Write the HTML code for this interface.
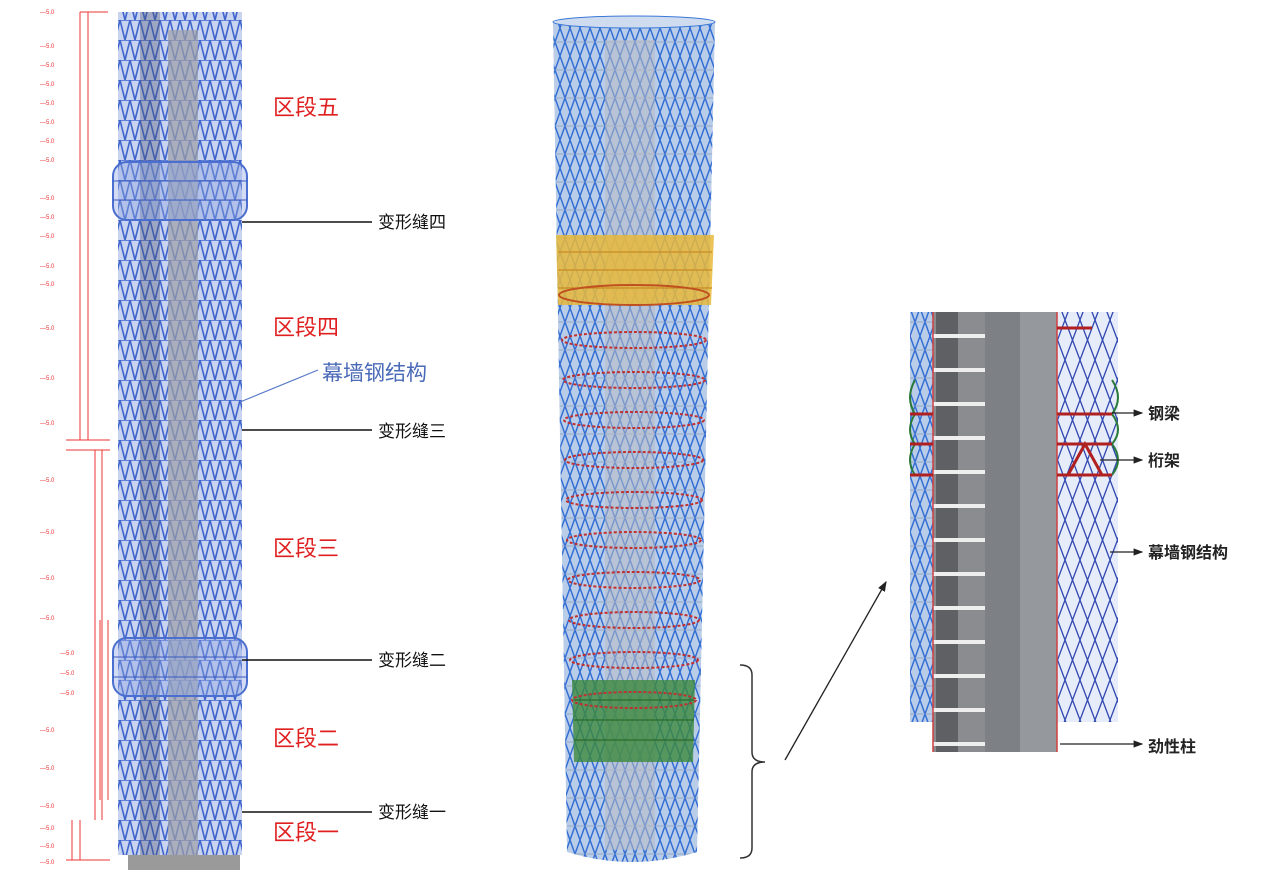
<!DOCTYPE html>
<html><head><meta charset="utf-8"><style>
html,body{margin:0;padding:0;background:#fff;width:1269px;height:875px;overflow:hidden}
svg{display:block}
.cn{font-family:"Liberation Sans","Noto Sans CJK SC",sans-serif}
</style></head><body>
<svg width="1269" height="875" xmlns="http://www.w3.org/2000/svg">
<defs>
<pattern id="lat" width="10" height="20" patternUnits="userSpaceOnUse">
<rect width="10" height="20" fill="#c9d4f0"/>
<path d="M0 0L5 20M10 0L5 20M0 0H10" stroke="#3f64cc" stroke-width="1.6" fill="none"/>
</pattern>
<pattern id="lat2" width="10" height="28" patternUnits="userSpaceOnUse">
<rect width="10" height="28" fill="#b9cde9"/>
<path d="M0 0L10 28M10 0L0 28" stroke="#2f6cd4" stroke-width="1.4" fill="none"/>
<path d="M0 14H10" stroke="#8aa0c0" stroke-width="0.8"/>
</pattern>
<pattern id="lat3" width="15" height="40" patternUnits="userSpaceOnUse">
<rect width="15" height="40" fill="#e6ecf9"/>
<path d="M0 0L15 40M15 0L0 40" stroke="#3048b0" stroke-width="1.3" fill="none"/>
</pattern>
<pattern id="flr" width="52" height="34" patternUnits="userSpaceOnUse">
<rect width="52" height="34" fill="#8a8c90"/>
<rect x="0" y="0" width="22" height="34" fill="#5e6064"/>
<rect x="0" y="28" width="52" height="4" fill="#eeeeee"/>
</pattern>
<marker id="ah" markerWidth="8" markerHeight="8" refX="7" refY="4" orient="auto"><path d="M0 1L8 4L0 7Z" fill="#222"/></marker>
</defs>

<g stroke="#e33" stroke-width="1" fill="none">
<path d="M80 12H108M80 12V440M88 12V440M66 440H110M95 450V820M102 450V820M66 450H110M100 620V800M108 620V800M72 820V860M80 820V860M66 860H110"/>
</g>
<g fill="#e33" font-size="6" font-family="Liberation Sans">
<text x="40" y="14">—5.0</text>
<text x="40" y="48">—5.0</text><text x="40" y="67">—5.0</text><text x="40" y="86">—5.0</text>
<text x="40" y="105">—5.0</text><text x="40" y="124">—5.0</text><text x="40" y="143">—5.0</text>
<text x="40" y="162">—5.0</text><text x="40" y="200">—5.0</text><text x="40" y="219">—5.0</text>
<text x="40" y="238">—5.0</text><text x="40" y="268">—5.0</text><text x="40" y="286">—5.0</text>
<text x="40" y="330">—5.0</text><text x="40" y="380">—5.0</text><text x="40" y="425">—5.0</text>
<text x="40" y="482">—5.0</text><text x="40" y="534">—5.0</text><text x="40" y="580">—5.0</text>
<text x="40" y="620">—5.0</text><text x="60" y="655">—5.0</text><text x="60" y="675">—5.0</text>
<text x="60" y="695">—5.0</text><text x="40" y="732">—5.0</text><text x="40" y="770">—5.0</text>
<text x="40" y="808">—5.0</text><text x="40" y="830">—5.0</text><text x="40" y="848">—5.0</text>
<text x="40" y="864">—5.0</text>
</g>

<rect x="128" y="845" width="112" height="25" fill="#9a9a9a"/>
<rect x="118" y="12" width="124" height="843" fill="url(#lat)"/>
<rect x="168" y="30" width="30" height="825" fill="#9ea0a6" opacity="0.7"/>
<rect x="140" y="12" width="20" height="843" fill="#4a5270" opacity="0.35"/>
<g fill="none" stroke="#4a6fd0" stroke-width="2">
<rect x="113" y="162" width="134" height="58" rx="14" fill="#8fa4e0" fill-opacity="0.4"/>
<rect x="113" y="638" width="134" height="58" rx="14" fill="#8fa4e0" fill-opacity="0.4"/>
</g>
<g stroke="#3a5bc0" stroke-width="1">
<path d="M113 181H247M113 200H247M113 657H247M113 677H247"/>
</g>

<g class="cn" fill="#e02020" font-size="22">
<text x="273" y="115">区段五</text><text x="273" y="335">区段四</text>
<text x="273" y="556">区段三</text><text x="273" y="746">区段二</text>
<text x="273" y="840">区段一</text>
</g>
<g stroke="#111" stroke-width="1.5">
<path d="M242 222H372M242 430H372M242 660H372M242 812H372"/>
</g>
<g class="cn" fill="#111" font-size="17">
<text x="378" y="228">变形缝四</text><text x="378" y="437">变形缝三</text>
<text x="378" y="666">变形缝二</text><text x="378" y="818">变形缝一</text>
</g>
<path d="M240 402L318 370" stroke="#5a7ac8" stroke-width="1.2"/>
<text x="322" y="380" class="cn" fill="#4a6ab8" font-size="21">幕墙钢结构</text>

<path d="M553 22 L715 22 L697 852 Q632 872 567 852 Z" fill="url(#lat2)"/>
<rect x="605" y="40" width="50" height="810" fill="#b8bcc4" opacity="0.55"/>
<ellipse cx="634" cy="22" rx="81" ry="6" fill="#cfdcef" stroke="#3a78d8"/>
<path d="M556 235 L714 235 L711 305 L558 305 Z" fill="#e8b83a" opacity="0.85"/>
<g stroke="#c88a20" stroke-width="1.2" fill="none">
<path d="M558 252H712M558 270H712M558 288H712"/>
</g>
<ellipse cx="634" cy="295" rx="75" ry="10" fill="none" stroke="#c05020" stroke-width="2"/>
<path d="M572 680 L695 680 L693 762 L574 762 Z" fill="#3c8a3c" opacity="0.8"/>
<g stroke="#2a6a2a" stroke-width="1.3" fill="none"><path d="M574 700H694M574 720H694M574 740H694"/></g>
<g fill="none" stroke="#c03030" stroke-width="2" stroke-dasharray="3 2">
<ellipse cx="634" cy="340" rx="72" ry="8"/><ellipse cx="634" cy="380" rx="71" ry="8"/>
<ellipse cx="634" cy="420" rx="70" ry="8"/><ellipse cx="634" cy="460" rx="69" ry="8"/>
<ellipse cx="634" cy="500" rx="68" ry="8"/><ellipse cx="634" cy="540" rx="67" ry="8"/>
<ellipse cx="634" cy="580" rx="66" ry="8"/><ellipse cx="634" cy="620" rx="65" ry="8"/>
<ellipse cx="634" cy="660" rx="64" ry="8"/><ellipse cx="634" cy="700" rx="62" ry="8"/>
</g>

<path d="M740 665 Q752 665 752 675 V752 Q752 762 765 762 Q752 762 752 772 V848 Q752 858 740 858" fill="none" stroke="#333" stroke-width="1.5"/>
<path d="M785 760 L886 582" stroke="#222" stroke-width="1.3" marker-end="url(#ah)"/>

<rect x="910" y="312" width="24" height="410" fill="url(#lat2)"/>
<rect x="1057" y="312" width="61" height="410" fill="url(#lat3)"/>
<rect x="933" y="312" width="52" height="440" fill="url(#flr)"/>
<rect x="985" y="312" width="72" height="440" fill="#7d8084"/>
<rect x="1020" y="312" width="37" height="440" fill="#95989c"/>
<path d="M933 312V752M1057 312V752" stroke="#d04040" stroke-width="1.5"/>
<g fill="none" stroke="#2a7a3a" stroke-width="2">
<path d="M915 380 Q905 398 915 414 Q905 430 915 444 Q905 460 915 475"/>
<path d="M1112 380 Q1124 398 1112 414 Q1124 430 1112 444 Q1124 460 1112 475"/>
</g>
<g stroke="#b02020" stroke-width="3">
<path d="M910 414H933M910 444H933M910 475H933M1057 414H1112M1057 444H1112M1057 475H1112M1057 328H1092"/>
<path d="M1068 475L1085 444L1102 475" fill="none"/>
</g>
<g stroke="#222" stroke-width="1.2">
<path d="M1112 413H1142" marker-end="url(#ah)"/>
<path d="M1100 460H1142" marker-end="url(#ah)"/>
<path d="M1110 552H1142" marker-end="url(#ah)"/>
<path d="M1060 744H1142" marker-end="url(#ah)"/>
</g>
<g class="cn" fill="#222" font-size="16" font-weight="bold">
<text x="1148" y="419">钢梁</text><text x="1148" y="466">桁架</text>
<text x="1148" y="558">幕墙钢结构</text><text x="1148" y="752">劲性柱</text>
</g>
</svg>
</body></html>
